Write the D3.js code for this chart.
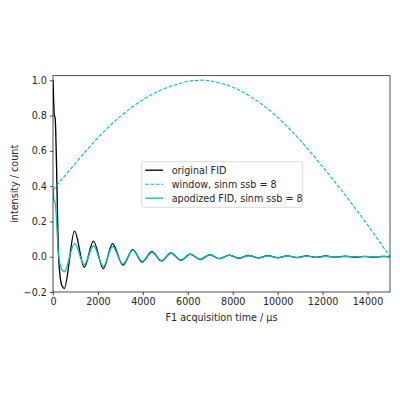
<!DOCTYPE html>
<html>
<head>
<meta charset="utf-8">
<script src="https://cdn.jsdelivr.net/npm/d3@7"></script>
<style>
  body { margin:0; background:white; }
  text { font-family: "DejaVu Sans", sans-serif; fill:#262626; }
</style>
</head>
<body>
<div id="canvas" class="canvas" style="width:400px;height:400px;"></div>
<script>
//values
var xTicks = [0, 2000, 4000, 6000, 8000, 10000, 12000, 14000];
var yTicks = [-0.2, 0.0, 0.2, 0.4, 0.6, 0.8, 1.0];

//time points (us) where the FID curves were read (start, then peaks / troughs)
var fidTime = [0, 30, 60, 90, 120, 160, 200, 240, 300, 400, 500,
    960, 1390, 1800, 2240, 2650, 3110, 3550, 3970, 4400, 4830, 5250, 5690,
    6110, 6550, 6980, 7410, 7850, 8270, 8710, 9130, 9570, 9990, 10420, 10850,
    11290, 11710, 12140, 12570, 13000, 13430, 13860, 14290, 14720, 15000];

var originalFid = [1.0, 0.88, 0.80, 0.79, 0.72, 0.50, 0.24, 0.03, -0.09, -0.165, -0.18,
    0.145, -0.06, 0.088, -0.068, 0.074, -0.048, 0.04, -0.03, 0.028, -0.024, 0.021, -0.02,
    0.015, -0.016, 0.011, -0.011, 0.009, -0.009, 0.007, -0.007, 0.006, -0.006, 0.005, -0.005,
    0.005, -0.004, 0.004, -0.003, 0.003, -0.003, 0.002, -0.002, 0.002, 0.0];

var apodizedFid = [0.38, 0.34, 0.31, 0.31, 0.28, 0.20, 0.10, 0.02, -0.035, -0.075, -0.085,
    0.076, -0.045, 0.062, -0.055, 0.058, -0.042, 0.036, -0.026, 0.025, -0.022, 0.02, -0.019,
    0.015, -0.016, 0.011, -0.011, 0.009, -0.008, 0.006, -0.006, 0.005, -0.005, 0.004, -0.004,
    0.003, -0.003, 0.002, -0.002, 0.001, -0.001, 0.0005, -0.0003, 0.0001, 0.0];

var windowTime = [0, 1000, 2000, 3000, 4000, 5000, 6000, 6500, 7000, 8000,
    9000, 10000, 11000, 12000, 13000, 14000, 15000];
var windowSinm = [0.38, 0.53, 0.675, 0.795, 0.89, 0.955, 0.993, 1.0, 0.997, 0.96,
    0.89, 0.79, 0.66, 0.51, 0.35, 0.18, 0.0];

var legendLabels = ['original FID', 'window, sinm ssb = 8', 'apodized FID, sinm ssb = 8'];

//plot area
var margin = {t:75.7, r:10, b:108, l:53},
    width = 400 - margin.l - margin.r,
    height = 400 - margin.t - margin.b;

var svg = d3.select('.canvas')
    .append('svg')
    .attr('width', 400)
    .attr('height', 400);

var canvas = svg.append('g')
    .attr('transform','translate('+margin.l+','+margin.t+')');

var x = d3.scaleLinear().domain([0, 15000]).range([0, width]);
var y = d3.scaleLinear().domain([-0.2, 1.026]).range([height, 0]);

svg.append('clipPath').attr('id','clip')
    .append('rect').attr('width', width).attr('height', height);

var fontSize = 9.6;
var cyan = '#00bfbf';

//axes
var xAxis = canvas.append('g')
    .attr('transform','translate(0,'+height+')')
    .call(d3.axisBottom(x).tickValues(xTicks).tickFormat(d3.format('d')).tickSize(3.1).tickPadding(3).tickSizeOuter(0));
var yAxis = canvas.append('g')
    .call(d3.axisLeft(y).tickValues(yTicks).tickFormat(d3.format('.1f')).tickSize(3.1).tickPadding(3).tickSizeOuter(0));

[xAxis, yAxis].forEach(function(a){
    a.select('.domain').remove();
    a.selectAll('line').attr('stroke','black').attr('stroke-width',0.7);
    a.selectAll('text').style('font-size', fontSize+'px').style('font-family','"DejaVu Sans", sans-serif').attr('fill','#262626');
});

//lines
function series(ts, vs){
    return ts.map(function(t,i){ return [t, vs[i]]; });
}
var line = d3.line()
    .x(function(d){ return x(d[0]); })
    .y(function(d){ return y(d[1]); })
    .curve(d3.curveMonotoneX);

var plot = canvas.append('g').attr('clip-path','url(#clip)');

plot.append('path')
    .datum(series(fidTime, originalFid))
    .attr('d', line)
    .attr('fill','none')
    .attr('stroke','black')
    .attr('stroke-width',1.33);

plot.append('path')
    .datum(series(windowTime, windowSinm))
    .attr('d', line.curve(d3.curveNatural))
    .attr('fill','none')
    .attr('stroke',cyan)
    .attr('stroke-width',1.1)
    .attr('stroke-dasharray','3.6,1.8');

line.curve(d3.curveMonotoneX);
plot.append('path')
    .datum(series(fidTime, apodizedFid))
    .attr('d', line)
    .attr('fill','none')
    .attr('stroke',cyan)
    .attr('stroke-width',1.33);

//frame
canvas.append('rect')
    .attr('width', width)
    .attr('height', height)
    .attr('fill','none')
    .attr('stroke','black')
    .attr('stroke-width',0.7);

//axis labels
canvas.append('text')
    .attr('x', width/2)
    .attr('y', height + 29)
    .attr('text-anchor','middle')
    .style('font-size', fontSize+'px')
    .text('F1 acquisition time / µs');

svg.append('text')
    .attr('transform','translate(18,'+(margin.t+height/2)+') rotate(-90)')
    .attr('text-anchor','middle')
    .style('font-size', fontSize+'px')
    .text('intensity / count');

//legend
var legend = svg.append('g').attr('transform','translate(141.7,161.7)');
legend.append('rect')
    .attr('width',161)
    .attr('height',45.6)
    .attr('rx',2)
    .attr('fill','white')
    .attr('fill-opacity',0.8)
    .attr('stroke','#cccccc')
    .attr('stroke-width',0.7);

var styles = [
    {c:'black', dash:null, w:1.33},
    {c:cyan, dash:'3.6,1.8', w:1.1},
    {c:cyan, dash:null, w:1.33}
];
legendLabels.forEach(function(lab, i){
    var yy = 8.5 + i*14;
    legend.append('line')
        .attr('x1',3.5).attr('x2',21.3)
        .attr('y1',yy).attr('y2',yy)
        .attr('stroke',styles[i].c)
        .attr('stroke-width',styles[i].w)
        .attr('stroke-dasharray',styles[i].dash);
    legend.append('text')
        .attr('x',30)
        .attr('y',yy)
        .attr('dy','0.35em')
        .style('font-size', fontSize+'px')
        .text(lab);
});
</script>
</body>
</html>
